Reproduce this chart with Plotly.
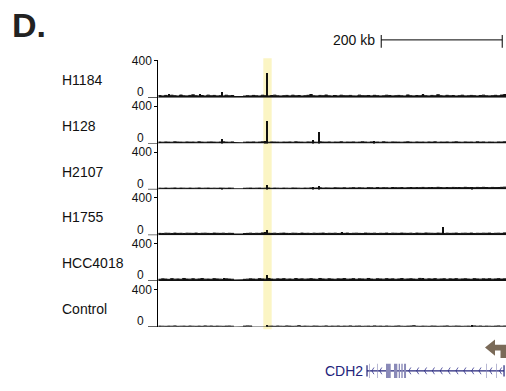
import plotly.graph_objects as go

W, H = 506, 391

# ---------------- data ----------------
track_names = ["H1184", "H128", "H2107", "H1755", "HCC4018", "Control"]
bin_kb = 5  # background signal bins (kb); None = no data

bg_H1184 = [22,18,24,19,26,21,18,28,20,19, 24,30,21,19,23,18,27,20,24,19,
            21,18,26,20,23,19,None,None,17,21, 19,24,20,18,26,21,19,23,27,20,
            18,21,24,19,26,20,23,18,21,25, 32,20,19,24,21,28,20,18,23,19,
            26,21,20,24,19,18,27,21,20,23, 19,25,21,18,20,26,23,19,21,24,
            20,18,29,21,19,23,20,26,21,19, 24,20,31,21,19,25,20,23,18,21,
            26,19,20,24,21,18,23,27,20,19, 21,25,20,28,32]
bg_H128 = [16,14,17,15,14,18,16,15,14,17, 15,16,14,18,15,14,16,17,15,14,
           16,18,15,14,17,15,None,None,14,16, 15,17,14,16,18,15,14,17,16,15,
           14,16,15,17,14,18,16,15,14,17, 16,15,14,18,16,15,17,14,16,15,
           18,14,16,15,17,14,15,18,16,14, 17,15,16,14,18,15,14,17,16,15,
           14,16,18,15,14,17,15,16,14,17, 15,18,14,16,15,17,14,16,18,15,
           14,17,15,16,14,18,15,17,14,16, 15,14,17,16,18]
bg_H2107 = [13,12,14,12,13,15,12,14,13,12, 14,12,13,15,12,13,14,12,13,12,
            14,13,12,14,13,12,None,None,12,13, 14,12,13,14,12,13,15,12,14,13,
            12,14,13,12,15,14,13,12,14,13, 16,14,15,17,14,16,15,14,17,16,
            15,17,14,16,18,15,17,16,14,18, 17,15,19,16,18,17,15,20,18,17,
            19,16,18,20,17,19,18,21,17,19, 20,18,22,19,17,20,18,21,19,20,
            18,22,19,20,18,21,19,22,20,18, 21,19,20,22,24]
bg_H1755 = [19,18,21,20,18,22,19,20,18,21, 20,19,22,18,20,21,19,18,22,20,
            19,21,18,20,19,18,None,None,17,19, 21,18,20,19,24,18,20,19,21,18,
            20,22,19,18,21,20,18,22,19,20, 18,21,19,20,22,18,20,19,21,18,
            20,19,22,18,20,21,19,18,22,20, 19,21,18,20,19,22,18,21,20,19,
            22,20,19,21,18,22,20,19,23,21, 20,19,22,20,18,21,19,20,22,18,
            20,21,19,22,18,20,19,21,20,22, 18,20,21,19,24]
bg_HCC4018 = [18,22,20,17,24,19,21,18,26,20, 19,23,18,21,25,19,20,18,24,21,
              19,17,22,20,18,16,None,None,17,19, 22,20,18,24,21,19,26,20,18,22,
              20,24,19,21,18,25,20,22,19,21, 24,20,18,26,21,19,23,20,18,22,
              21,25,19,20,24,18,22,21,19,26, 20,18,23,21,19,24,20,22,18,21,
              25,19,21,23,20,18,27,21,19,22, 20,24,19,21,23,18,22,20,24,19,
              21,23,20,18,24,21,19,22,20,23, 19,21,24,20,22]
bg_Control = [6,5,4,6,5,8,4,5,6,4, 7,5,4,6,4,8,5,7,4,6,
              5,4,6,7,5,4,None,None,6,8, 7,5,None,None,None,None,5,6,4,7,
              5,4,8,6,4,5,10,4,6,5, 4,7,6,4,5,8,4,6,5,7,
              4,6,5,8,4,6,7,4,5,6, 4,8,5,6,4,7,5,4,6,8,
              5,4,6,7,10,5,4,6,5,4, 7,6,4,5,6,8,4,5,7,6,
              4,5,6,4,8,5,7,4,6,5, 4,6,8,5,7]
bg_tracks = [bg_H1184, bg_H128, bg_H2107, bg_H1755, bg_HCC4018, bg_Control]

# peaks: (position kb, signal)
peaks_kb = [
    [18.0, 70.0, 106.6, 180.0, 253.0, 292.0, 437.5, 574.0],
    [106.6, 177.0, 180.0, 255.7, 267.0, 358.0],
    [106.6, 180.0, 255.7, 267.0, 520.0],
    [176.9, 180.0, 304.0, 471.0],
    [180.0, 110.0, 437.5],
    [180.0, 520.0],
]
peaks_val = [
    [35, 35, 55, 260, 32, 30, 32, 40],
    [50, 30, 250, 40, 125, 28],
    [22, 52, 28, 38, 28],
    [30, 55, 28, 85],
    [58, 26, 30],
    [20, 18],
]

highlight_kb = (173.6, 187.4)
scale_start_kb, scale_len_kb = 368.5, 200

gene_name = "CDH2"
gene_start_kb, gene_end_kb = 345.0, 571.5
exon_start_kb = [348.3, 361.5, 376.4, 389.6, 397.4, 401.7, 406.2, 542.3, 558.8]
exon_end_kb =   [349.3, 362.5, 384.2, 395.1, 399.5, 404.0, 409.5, 543.3, 559.8]
chevron_kb = [353, 366, 414, 427, 440, 453, 466, 479, 492, 505, 518, 530, 548, 564]

# ---------------- layout helpers ----------------
def py(px):
    return 1 - px / H

def pxx(px):
    return px / W

x_left_px = 158.3
baselines_px = [92.3, 139.0, 185.7, 232.3, 278.9, 325.5]
top_px = 54.3
px_per_400 = 38.0
x_range = [0, (W - x_left_px) * 1.653]

fig = go.Figure()
font_main = "Liberation Sans, Arial, sans-serif"

layout_axes = {}
for k, name in enumerate(track_names):
    yname = "y" if k == 0 else f"y{k+1}"
    ykey = "yaxis" if k == 0 else f"yaxis{k+1}"
    b = baselines_px[k]
    t = top_px if k == 0 else baselines_px[k - 1]
    ytop = 400 * (b - t) / px_per_400
    bg = bg_tracks[k]
    fig.add_trace(go.Scatter(
        x=[bin_kb * i for i in range(len(bg) + 1)], y=bg + [bg[-1]],
        mode="lines", line=dict(shape="hv", width=1, color="#111111"),
        fill="tozeroy", fillcolor="#111111", connectgaps=False,
        xaxis="x", yaxis=yname, showlegend=False, hoverinfo="skip"))
    fig.add_trace(go.Bar(
        x=peaks_kb[k], y=peaks_val[k], width=2.2,
        marker=dict(color="#111111", line=dict(width=0)),
        xaxis="x", yaxis=yname, showlegend=False, hoverinfo="skip"))
    layout_axes[ykey] = dict(
        domain=[py(b), py(t)], range=[0, ytop], anchor="x",
        showline=True, linecolor="black", linewidth=1,
        showgrid=False, zeroline=False,
        tickvals=[400], ticktext=["400"], ticks="outside", ticklen=3,
        tickcolor="black", tickfont=dict(family=font_main, size=12, color="#111"),
        fixedrange=True)
    # track label
    fig.add_annotation(x=pxx(60), y=py(b - 18), xref="paper", yref="paper",
                       text=name, showarrow=False, xanchor="left", yanchor="middle",
                       font=dict(family=font_main, size=14, color="#111"))
    # zero label + dash
    fig.add_annotation(x=pxx(146), y=0, xref="paper", yref=yname,
                       text="0", showarrow=False, xanchor="right", yanchor="middle",
                       yshift=5.5, font=dict(family=font_main, size=12, color="#111"))
    fig.add_shape(type="line", xref="paper", yref=yname, x0=pxx(148), x1=pxx(x_left_px),
                  y0=0, y1=0, line=dict(color="black", width=1))

# gene track axis
layout_axes["yaxis7"] = dict(domain=[py(380), py(361)], range=[0, 1], anchor="x",
                             visible=False, fixedrange=True)

# highlight
fig.add_shape(type="rect", xref="x", yref="paper", x0=highlight_kb[0], x1=highlight_kb[1],
              y0=py(328), y1=py(52.3), fillcolor="#FBF5C4", line=dict(width=0), layer="below")

# scale bar
fig.add_shape(type="line", xref="x", yref="paper", x0=scale_start_kb, x1=scale_start_kb + scale_len_kb,
              y0=py(33.5), y1=py(33.5), line=dict(color="black", width=1))
for xv in (scale_start_kb, scale_start_kb + scale_len_kb):
    fig.add_shape(type="line", xref="x", yref="paper", x0=xv, x1=xv,
                  y0=py(28.5), y1=py(41.5), line=dict(color="black", width=1))
fig.add_annotation(x=scale_start_kb, y=py(34), xref="x", yref="paper", xshift=-4,
                   text=f"{scale_len_kb} kb", showarrow=False, xanchor="right", yanchor="middle",
                   font=dict(family=font_main, size=14, color="#111"))

# panel letter
fig.add_annotation(x=pxx(10), y=py(18), xref="paper", yref="paper", text="<b>D.</b>",
                   showarrow=False, xanchor="left", yanchor="middle",
                   font=dict(family=font_main, size=34, color="#222"))

# gene model
gcol = "#23237A"
fig.add_shape(type="line", xref="x", yref="y7", x0=gene_start_kb, x1=gene_end_kb, y0=0.5, y1=0.5,
              line=dict(color=gcol, width=1.2))
for xv in (gene_start_kb, gene_end_kb):
    fig.add_shape(type="line", xref="x", yref="y7", x0=xv, x1=xv, y0=0.2, y1=0.8,
                  line=dict(color=gcol, width=1.2))
for s, e in zip(exon_start_kb, exon_end_kb):
    fig.add_shape(type="rect", xref="x", yref="y7", x0=s, x1=e, y0=0.12, y1=0.88,
                  fillcolor="#8A8AB8", line=dict(width=0))
cx, cy = [], []
for c in chevron_kb:
    cx += [c + 3.5, c, c + 3.5, None]
    cy += [0.68, 0.5, 0.32, None]
fig.add_trace(go.Scatter(x=cx, y=cy, mode="lines", line=dict(color="#4A4A9A", width=0.9),
                         xaxis="x", yaxis="y7", showlegend=False, hoverinfo="skip"))
fig.add_annotation(x=gene_start_kb, y=0.5, xref="x", yref="y7", xshift=-2,
                   text=gene_name, showarrow=False, xanchor="right", yanchor="middle",
                   font=dict(family=font_main, size=14, color=gcol))

# TSS arrow (bent arrow)
acol = "#7A6A58"
fig.add_shape(type="path", xref="paper", yref="paper",
              path=(f"M {pxx(485)} {py(346.8)} L {pxx(495)} {py(338.5)} L {pxx(495)} {py(344)} "
                    f"L {pxx(506)} {py(344)} L {pxx(506)} {py(357.5)} L {pxx(500.5)} {py(357.5)} "
                    f"L {pxx(500.5)} {py(349.8)} L {pxx(495)} {py(349.8)} L {pxx(495)} {py(355)} Z"),
              fillcolor=acol, line=dict(width=0))

fig.update_layout(
    width=W, height=H, margin=dict(l=0, r=0, t=0, b=0),
    paper_bgcolor="white", plot_bgcolor="rgba(0,0,0,0)",
    barmode="overlay", bargap=0,
    xaxis=dict(domain=[pxx(x_left_px), 1], range=x_range, visible=False, anchor="y6",
               fixedrange=True),
    **layout_axes,
)

fig.write_html("out.html")
